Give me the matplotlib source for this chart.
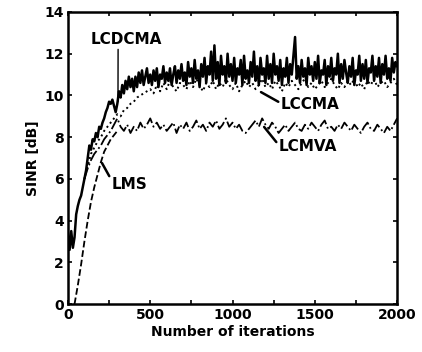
import numpy as np
import matplotlib
matplotlib.use("Agg")
import matplotlib.pyplot as plt
from matplotlib.ticker import MultipleLocator

plt.rcParams['font.family'] = ['DejaVu Sans']
plt.rcParams['font.weight'] = 'bold'

# LCDCMA (solid), sampled every 10 iterations
lcdcma_x = np.arange(0, 2001, 10)
lcdcma_y = [
    3.4, 2.6, 3.5, 2.7, 3.2, 4.3, 4.7, 5.0, 5.2, 5.6,
    6.0, 6.4, 7.0, 7.6, 7.4, 7.9, 7.8, 8.2, 8.0, 8.5,
    8.4, 8.7, 8.9, 9.2, 9.4, 9.7, 9.6, 9.8, 9.5, 9.2,
    9.6, 10.2, 9.9, 10.5, 10.1, 10.7, 10.3, 10.9, 10.4, 10.8,
    10.2, 10.9, 10.4, 11.1, 10.6, 11.2, 10.5, 10.9, 11.3, 10.6, 11.0,
    10.5, 11.2, 10.7, 11.3, 10.4, 11.0, 10.8, 11.4, 10.6, 11.1,
    10.7, 11.3, 10.5, 11.0, 11.4, 10.6, 11.2, 10.8, 11.5, 10.7,
    11.1, 10.5, 11.6, 10.9, 11.3, 10.6, 11.7, 10.8, 11.2, 10.4,
    11.5, 10.9, 11.8, 10.6, 11.4, 11.0, 12.1, 10.7, 12.4, 10.8,
    11.6, 10.5, 11.9, 11.0, 11.4, 10.6, 12.0, 10.9, 11.5, 10.7,
    11.8, 10.6, 11.3, 11.0, 11.7, 10.5, 11.9, 10.8, 11.2, 10.6,
    11.6, 10.9, 12.1, 10.7, 11.4, 10.5, 11.8, 11.0, 11.3, 10.6,
    11.9, 10.8, 11.5, 10.6, 12.0, 11.0, 11.4, 10.7, 11.7, 10.5,
    11.3, 10.9, 11.8, 10.6, 11.5, 11.0, 11.9, 12.8, 10.8, 11.4,
    10.6, 11.7, 10.9, 11.3, 10.5, 11.8, 11.0, 11.4, 10.7, 11.6,
    10.8, 11.9, 10.6, 11.2, 11.0, 11.7, 10.5, 11.4, 10.9, 11.8,
    10.7, 11.3, 11.0, 12.0, 10.6, 11.5, 10.8, 11.7, 11.1, 10.6,
    11.4, 10.9, 11.8, 10.5, 11.2, 11.0, 11.9, 10.7, 11.5, 10.8,
    11.7, 10.6, 11.3, 11.1, 11.9, 10.7, 11.4, 10.9, 11.8, 10.6,
    11.5, 11.0, 11.9, 10.8, 11.3, 10.7, 11.8, 11.1, 11.6, 11.4,
]

# LCCMA (dotted) and LCMVA (dash-dot), every 20 iterations from 100
mid_x = np.arange(100, 2001, 20)
lccma_y = [
    6.0, 6.6, 7.2, 7.5, 7.8, 8.0, 8.3, 8.5, 8.7, 8.9,
    9.1, 9.0, 9.3, 9.4, 9.6, 9.7, 9.9, 10.0, 10.1, 10.2,
    10.3, 10.1, 10.5, 10.2, 10.6, 10.3, 10.7, 10.4, 10.2, 10.6,
    10.5, 10.3, 10.7, 10.4, 10.8, 10.5, 10.2, 10.6, 10.4, 10.7,
    10.3, 10.6, 10.4, 10.8, 10.5, 10.3, 10.6, 10.2, 10.5, 10.7,
    10.4, 10.6, 10.3, 10.5, 10.8, 10.4, 10.6, 10.3, 10.7, 10.5,
    10.2, 10.6, 10.4, 10.7, 10.5, 10.3, 10.6, 10.8, 10.4, 10.6,
    10.3, 10.5, 10.7, 10.4, 10.6, 10.8, 10.5, 10.3, 10.6, 10.4,
    10.7, 10.5, 10.8, 10.4, 10.6, 10.3, 10.7, 10.5, 10.8, 10.4,
    10.6, 10.7, 10.4, 10.6, 10.8, 10.5,
]
lcmva_y = [
    6.0, 6.5, 6.9, 7.2, 7.4, 7.6, 7.9, 8.1, 8.3, 8.6,
    8.9, 8.5, 8.3, 8.6, 8.2, 8.5, 8.3, 8.7, 8.4, 8.6,
    8.9, 8.5, 8.7, 8.4, 8.6, 8.3, 8.5, 8.7, 8.2, 8.6,
    8.4, 8.7, 8.3, 8.5, 8.8, 8.4, 8.6, 8.3, 8.7, 8.5,
    8.8, 8.4, 8.6, 8.9, 8.5, 8.7, 8.4, 8.6, 8.3, 8.2,
    8.4, 8.6, 8.8, 8.5, 8.9, 8.6, 8.4, 8.7, 8.5, 8.2,
    8.4, 8.6, 8.3, 8.5, 8.7, 8.4, 8.3, 8.6, 8.4, 8.7,
    8.5, 8.3, 8.6, 8.8, 8.4, 8.5, 8.3, 8.6, 8.4, 8.7,
    8.5, 8.3, 8.6, 8.4, 8.2, 8.5, 8.7, 8.4, 8.3, 8.6,
    8.4, 8.2, 8.5, 8.3, 8.6, 8.9,
]

# LMS (dashed), initial rise
lms_x = np.arange(40, 301, 20)
lms_y = [0.0, 0.9, 1.9, 3.0, 4.0, 4.9, 5.6, 6.2, 6.8, 7.3, 7.6, 7.9, 8.1, 8.3]

fig = plt.figure(figsize=(4.22, 3.52), dpi=100)
ax = fig.add_axes([0.161, 0.136, 0.78, 0.83])

ax.plot(lcdcma_x, lcdcma_y, color='black', lw=1.8, ls='-')
ax.plot(mid_x, lccma_y, color='black', lw=1.4, ls=':')
ax.plot(mid_x, lcmva_y, color='black', lw=1.3, ls='-.')
ax.plot(lms_x, lms_y, color='black', lw=1.3, ls='--')

ax.set_xlim(0, 2000)
ax.set_ylim(0, 14)
ax.xaxis.set_major_locator(MultipleLocator(500))
ax.xaxis.set_minor_locator(MultipleLocator(250))
ax.yaxis.set_major_locator(MultipleLocator(2))
ax.tick_params(which='both', direction='in', top=True, right=True,
               labelsize=10, width=1.2, length=3, pad=3)
for s in ax.spines.values():
    s.set_linewidth(1.8)

ax.set_xlabel('Number of iterations', fontsize=10, fontweight='bold', labelpad=2)
ax.set_ylabel('SINR [dB]', fontsize=10, fontweight='bold', labelpad=3)

lab = dict(fontsize=11, fontweight='bold', va='center', ha='left')
ax.annotate('LCDCMA', xy=(304, 9.7), xytext=(140, 12.7),
            arrowprops=dict(arrowstyle='-', lw=1.0, color='black',
                            relpos=(0.38, 0.0), shrinkA=0, shrinkB=0), **lab)
ax.annotate('LCCMA', xy=(1173, 10.16), xytext=(1295, 9.55),
            arrowprops=dict(arrowstyle='-', lw=1.8, color='black',
                            relpos=(0.0, 0.6), shrinkA=0, shrinkB=0), **lab)
ax.annotate('LCMVA', xy=(1192, 8.49), xytext=(1283, 7.53),
            arrowprops=dict(arrowstyle='-', lw=1.8, color='black',
                            relpos=(0.0, 0.6), shrinkA=0, shrinkB=0), **lab)
ax.annotate('LMS', xy=(207, 6.76), xytext=(268, 5.75),
            arrowprops=dict(arrowstyle='-', lw=1.8, color='black',
                            relpos=(0.0, 0.7), shrinkA=0, shrinkB=0), **lab)

fig.savefig('out.png', dpi=100)
